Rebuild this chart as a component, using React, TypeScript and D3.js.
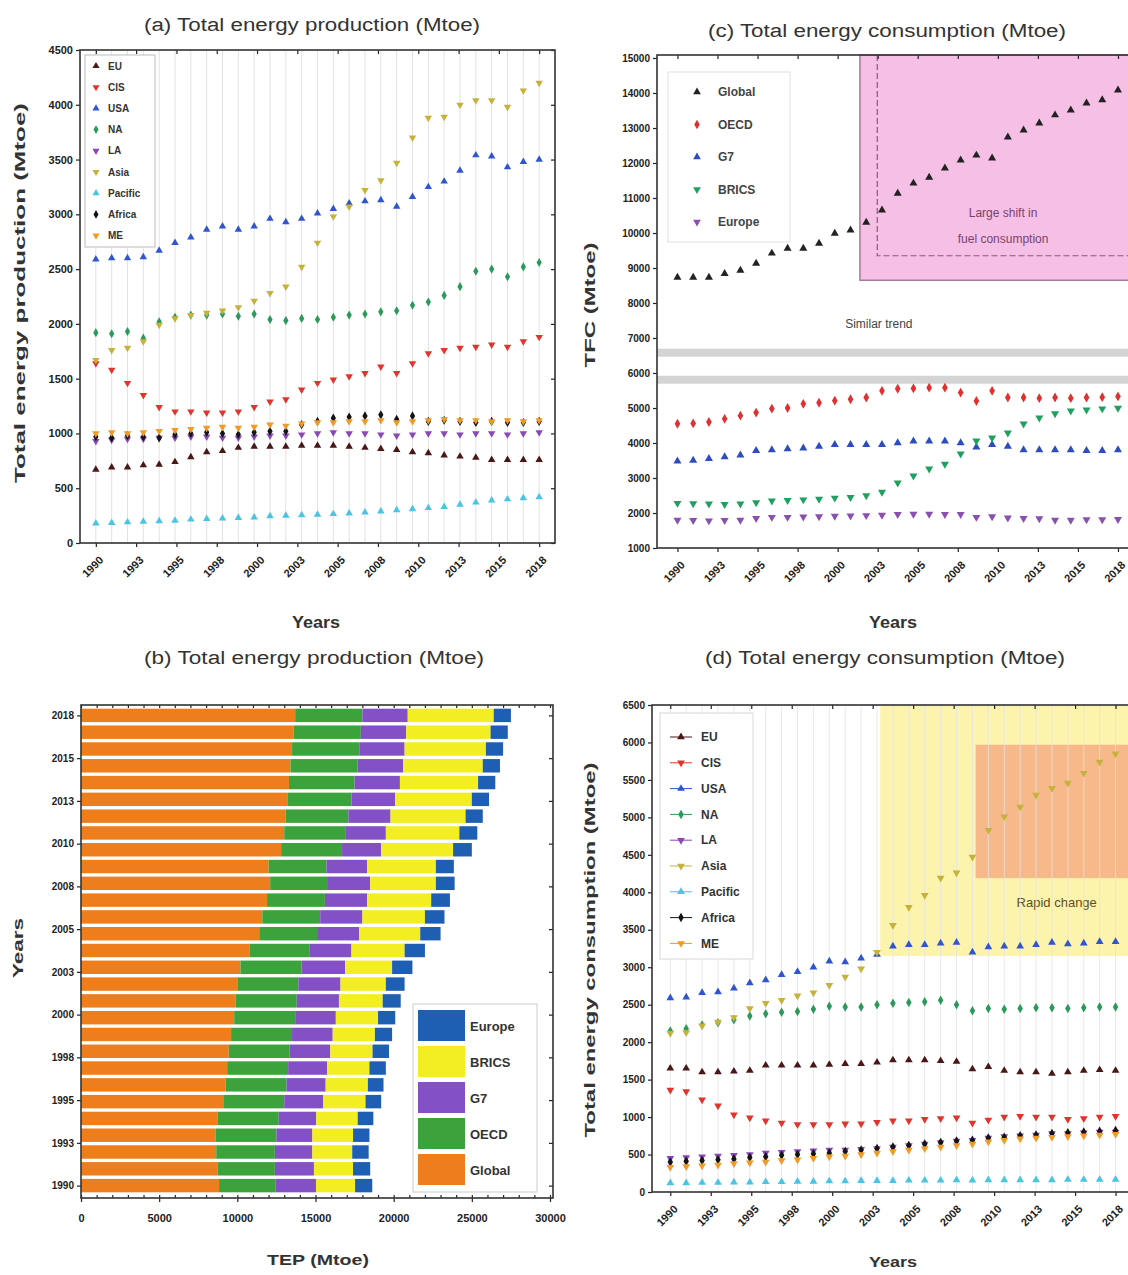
import React, { useEffect, useRef } from 'react';
import * as d3 from 'd3';

const FONT = "'Liberation Sans', Arial, Helvetica, sans-serif";

const years = [1990, 1991, 1992, 1993, 1994, 1995, 1996, 1997, 1998, 1999, 2000, 2001, 2002, 2003, 2004, 2005, 2006, 2007, 2008, 2009, 2010, 2011, 2012, 2013, 2014, 2015, 2016, 2017, 2018];
const yearTickLabels = ['1990', '1993', '1995', '1998', '2000', '2003', '2005', '2008', '2010', '2013', '2015', '2018'];

// (a) total energy production by region (Mtoe)
const regions = ['EU', 'CIS', 'USA', 'NA', 'LA', 'Asia', 'Pacific', 'Africa', 'ME'];
const prodEU = [670, 690, 690, 710, 715, 740, 785, 830, 840, 870, 880, 880, 880, 890, 890, 890, 880, 870, 860, 850, 830, 820, 800, 790, 780, 760, 760, 760, 760];
const prodCIS = [1640, 1580, 1460, 1350, 1240, 1200, 1200, 1190, 1190, 1200, 1240, 1290, 1310, 1400, 1460, 1490, 1520, 1550, 1610, 1550, 1640, 1730, 1760, 1780, 1790, 1810, 1790, 1840, 1880];
const prodUSA = [2590, 2600, 2600, 2610, 2670, 2740, 2790, 2860, 2890, 2860, 2890, 2960, 2930, 2960, 3010, 3050, 3100, 3120, 3130, 3070, 3160, 3250, 3300, 3400, 3540, 3530, 3430, 3480, 3500];
const prodNA = [1920, 1910, 1930, 1870, 2020, 2060, 2080, 2080, 2090, 2070, 2090, 2040, 2030, 2050, 2040, 2060, 2080, 2090, 2110, 2120, 2170, 2200, 2260, 2340, 2480, 2500, 2430, 2520, 2560];
const prodLA = [930, 940, 950, 950, 960, 960, 970, 970, 960, 960, 970, 980, 980, 990, 1000, 1010, 1000, 1000, 990, 980, 990, 1000, 1000, 990, 1000, 1000, 990, 1000, 1010];
const prodAsia = [1670, 1760, 1780, 1840, 1990, 2050, 2080, 2100, 2120, 2150, 2210, 2280, 2340, 2520, 2740, 2980, 3070, 3220, 3310, 3470, 3700, 3880, 3890, 4000, 4040, 4040, 3980, 4130, 4200];
const prodPacific = [180, 185, 190, 195, 200, 205, 215, 220, 225, 230, 235, 245, 250, 255, 260, 265, 270, 280, 290, 300, 310, 320, 330, 350, 370, 390, 400, 410, 420];
const prodAfrica = [970, 960, 980, 970, 960, 990, 1000, 1010, 1000, 990, 1010, 1020, 1020, 1080, 1110, 1140, 1150, 1160, 1170, 1130, 1160, 1110, 1120, 1110, 1100, 1110, 1100, 1100, 1110];
const prodME = [1000, 1010, 1000, 1010, 1020, 1030, 1040, 1050, 1060, 1050, 1060, 1080, 1070, 1090, 1100, 1100, 1110, 1110, 1120, 1100, 1110, 1120, 1130, 1120, 1120, 1110, 1120, 1110, 1120];

// (b) total energy production, stacked by bloc (Mtoe)
const blocs = ['Global', 'OECD', 'G7', 'BRICS', 'Europe'];
const tepGlobal = [8830, 8750, 8650, 8600, 8750, 9100, 9250, 9350, 9450, 9600, 9800, 9900, 10000, 10200, 10800, 11400, 11600, 11900, 12100, 12000, 12800, 13000, 13100, 13200, 13300, 13400, 13500, 13600, 13700];
const tepOECD = [3600, 3650, 3750, 3900, 3900, 3900, 3900, 3900, 3900, 3900, 3900, 3900, 3900, 3900, 3800, 3700, 3700, 3700, 3700, 3700, 3900, 3900, 4000, 4100, 4200, 4300, 4300, 4300, 4300];
const tepG7 = [2600, 2500, 2400, 2300, 2400, 2500, 2500, 2500, 2600, 2600, 2600, 2700, 2700, 2800, 2700, 2700, 2700, 2700, 2700, 2600, 2500, 2600, 2700, 2800, 2900, 2900, 2900, 2900, 2900];
const tepBRICS = [2500, 2500, 2550, 2600, 2650, 2700, 2700, 2700, 2700, 2700, 2700, 2800, 2900, 3000, 3400, 3900, 4000, 4100, 4200, 4400, 4600, 4700, 4800, 4900, 5000, 5100, 5200, 5400, 5500];
const tepEurope = [1100, 1100, 1050, 1050, 1000, 1000, 1000, 1050, 1050, 1100, 1100, 1150, 1200, 1300, 1300, 1300, 1250, 1200, 1200, 1150, 1200, 1150, 1100, 1100, 1100, 1100, 1100, 1100, 1100];

// (c) total final consumption by bloc (Mtoe)
const tfcGlobal = [8730, 8730, 8730, 8840, 8930, 9130, 9420, 9560, 9560, 9700, 9990, 10080, 10300, 10650, 11130, 11420, 11590, 11850, 12080, 12220, 12140, 12740, 12940, 13140, 13370, 13510, 13710, 13800, 14080];
const tfcOECD = [4550, 4560, 4600, 4690, 4780, 4870, 4980, 5000, 5120, 5150, 5210, 5250, 5300, 5490, 5550, 5560, 5580, 5580, 5440, 5200, 5490, 5300, 5300, 5280, 5300, 5280, 5300, 5310, 5330];
const tfcG7 = [3480, 3500, 3550, 3600, 3650, 3780, 3800, 3830, 3850, 3900, 3950, 3950, 3950, 3950, 4000, 4050, 4050, 4050, 4000, 3880, 3950, 3900, 3800, 3800, 3800, 3800, 3780, 3780, 3800];
const tfcBRICS = [2280, 2270, 2260, 2250, 2260, 2300, 2350, 2360, 2380, 2400, 2430, 2450, 2500, 2600, 2860, 3060, 3260, 3400, 3690, 4060, 4150, 4290, 4550, 4720, 4840, 4920, 4950, 4980, 5000];
const tfcEurope = [1800, 1790, 1780, 1790, 1800, 1850, 1880, 1880, 1890, 1900, 1910, 1920, 1930, 1940, 1960, 1970, 1970, 1960, 1960, 1880, 1900, 1860, 1850, 1840, 1800, 1800, 1810, 1810, 1820];

// (d) total energy consumption by region (Mtoe)
const consEU = [1650, 1650, 1600, 1600, 1610, 1620, 1690, 1690, 1690, 1690, 1700, 1710, 1710, 1730, 1760, 1760, 1760, 1750, 1740, 1640, 1670, 1620, 1600, 1600, 1580, 1600, 1620, 1630, 1620];
const consCIS = [1360, 1340, 1230, 1150, 1030, 990, 950, 920, 900, 900, 900, 910, 910, 930, 950, 950, 970, 980, 990, 920, 960, 1000, 1010, 1000, 1000, 970, 980, 1000, 1010];
const consUSA = [2590, 2600, 2660, 2670, 2720, 2790, 2830, 2900, 2940, 3000, 3080, 3070, 3120, 3170, 3280, 3300, 3300, 3320, 3330, 3200, 3270, 3280, 3280, 3300, 3330, 3310, 3320, 3340, 3340];
const consNA = [2150, 2180, 2230, 2260, 2300, 2350, 2380, 2400, 2410, 2440, 2480, 2470, 2470, 2500, 2520, 2530, 2540, 2560, 2500, 2420, 2450, 2440, 2450, 2460, 2460, 2450, 2460, 2470, 2470];
const consLA = [450, 460, 470, 480, 490, 500, 520, 530, 540, 550, 560, 560, 570, 580, 600, 620, 640, 660, 680, 690, 720, 740, 750, 760, 780, 780, 790, 800, 800];
const consAsia = [2120, 2130, 2220, 2270, 2330, 2450, 2520, 2560, 2620, 2660, 2760, 2870, 2980, 3200, 3560, 3800, 3960, 4190, 4260, 4470, 4830, 5010, 5140, 5300, 5390, 5460, 5590, 5740, 5850];
const consPacific = [120, 120, 125, 125, 130, 130, 135, 135, 140, 140, 145, 145, 150, 150, 150, 155, 155, 155, 160, 155, 160, 160, 160, 160, 160, 165, 165, 165, 165];
const consAfrica = [400, 410, 420, 430, 440, 460, 470, 490, 500, 510, 520, 540, 560, 580, 600, 620, 640, 660, 680, 690, 720, 730, 750, 760, 780, 790, 800, 810, 820];
const consME = [330, 340, 350, 360, 380, 390, 400, 420, 430, 450, 470, 480, 500, 520, 540, 560, 580, 600, 620, 640, 670, 690, 710, 720, 730, 740, 750, 760, 770];

const regionStyle: any = {
  EU: { color: '#4a1616', shape: 'triangle' },
  CIS: { color: '#e2342c', shape: 'down' },
  USA: { color: '#2f56d0', shape: 'triangle' },
  NA: { color: '#2a9a5a', shape: 'diamond' },
  LA: { color: '#8a48b8', shape: 'down' },
  Asia: { color: '#c4b23a', shape: 'down' },
  Pacific: { color: '#48c4e4', shape: 'triangle' },
  Africa: { color: '#141414', shape: 'diamond' },
  ME: { color: '#f09a28', shape: 'down' },
};
const blocColor: any = { Global: '#ee7d1c', OECD: '#3ca33c', G7: '#8350c6', BRICS: '#f2ee22', Europe: '#1e5fb4' };
const tfcStyle: any = {
  Global: { color: '#222222', shape: 'triangle' },
  OECD: { color: '#e03030', shape: 'diamond' },
  G7: { color: '#2d4cc0', shape: 'triangle' },
  BRICS: { color: '#20a060', shape: 'down' },
  Europe: { color: '#8a50b0', shape: 'down' },
};

const tickYears = yearTickLabels.map((_, k) => 1990 + (k * 28) / 11);
const plain = d3.format('d');

function symbolPath(shape: string, size: number) {
  const t = shape === 'diamond' ? d3.symbolDiamond : shape === 'cross' ? d3.symbolCross : d3.symbolTriangle;
  return d3.symbol().type(t).size(size)() as string;
}

function drawMarkers(g: any, values: number[], x: any, y: any, style: any, size = 26) {
  g.append('g').selectAll('path').data(values).join('path')
    .attr('d', symbolPath(style.shape, size))
    .attr('transform', (d: number, i: number) => `translate(${x(years[i])},${y(d)})${style.shape === 'down' ? ' rotate(180)' : ''}`)
    .attr('fill', style.color);
}

function styleAxis(g: any, size = 11) {
  g.select('.domain').remove();
  g.selectAll('line').attr('stroke', '#222').attr('stroke-width', 1.2);
  g.selectAll('text').attr('font-family', FONT).attr('font-size', size).attr('font-weight', 'bold').attr('fill', '#222');
}

function yearAxisBottom(svg: any, x: any, yPos: number) {
  const g = svg.append('g').attr('transform', `translate(0,${yPos})`)
    .call(d3.axisBottom(x).tickValues(tickYears).tickFormat((d: any, i: number) => yearTickLabels[i]).tickSize(4));
  styleAxis(g);
  g.selectAll('text').attr('x', 0).attr('y', 0).attr('dy', '0.35em')
    .attr('text-anchor', 'end').attr('transform', 'translate(5,15) rotate(-45)');
  return g;
}

function title(svg: any, text: string, cx: number, y: number, len: number, size = 18) {
  svg.append('text').attr('x', cx).attr('y', y).attr('text-anchor', 'middle')
    .attr('font-family', FONT).attr('font-size', size).attr('fill', '#333')
    .attr('textLength', len).attr('lengthAdjust', 'spacingAndGlyphs').text(text);
}

function axisTitle(svg: any, text: string, cx: number, cy: number, len: number, rotate = false, size = 15) {
  svg.append('text').attr('x', cx).attr('y', cy).attr('text-anchor', 'middle').attr('dy', '0.35em')
    .attr('transform', rotate ? `rotate(-90,${cx},${cy})` : null)
    .attr('font-family', FONT).attr('font-size', size).attr('font-weight', 'bold').attr('fill', '#333')
    .attr('textLength', len).attr('lengthAdjust', 'spacingAndGlyphs').text(text);
}

function drawPanelA(svg: any) {
  const A = { left: 80, right: 555, top: 50, bottom: 543 };
  const x = d3.scaleLinear().domain([1989, 2019]).range([A.left, A.right]);
  const y = d3.scaleLinear().domain([0, 4500]).range([A.bottom, A.top]);
  const series = [prodEU, prodCIS, prodUSA, prodNA, prodLA, prodAsia, prodPacific, prodAfrica, prodME];

  title(svg, '(a) Total energy production (Mtoe)', 312, 31, 336);
  svg.append('g').selectAll('line').data(years).join('line')
    .attr('x1', (d: number) => x(d)).attr('x2', (d: number) => x(d))
    .attr('y1', A.top).attr('y2', A.bottom).attr('stroke', '#e2e2e2').attr('stroke-width', 1);

  const gl = svg.append('g').attr('transform', `translate(${A.left},0)`)
    .call(d3.axisLeft(y).tickValues(d3.range(0, 4501, 500)).tickFormat(plain).tickSize(4).tickPadding(3));
  styleAxis(gl);
  const gr = svg.append('g').attr('transform', `translate(${A.right},0)`)
    .call(d3.axisLeft(y).tickValues(d3.range(0, 4501, 500)).tickSize(4).tickFormat(() => ''));
  styleAxis(gr);
  const gt = svg.append('g').attr('transform', `translate(0,${A.top})`)
    .call(d3.axisBottom(x).tickValues(tickYears).tickSize(4).tickFormat(() => ''));
  styleAxis(gt);
  yearAxisBottom(svg, x, A.bottom);

  // legend
  svg.append('rect').attr('x', 85).attr('y', 55).attr('width', 70).attr('height', 192)
    .attr('fill', 'white').attr('stroke', '#bbb');
  regions.forEach((r, i) => {
    const ly = 66 + i * 21.2;
    svg.append('path').attr('d', symbolPath(regionStyle[r].shape, 22))
      .attr('transform', `translate(96,${ly})${regionStyle[r].shape === 'down' ? ' rotate(180)' : ''}`)
      .attr('fill', regionStyle[r].color);
    svg.append('text').attr('x', 108).attr('y', ly).attr('dy', '0.35em')
      .attr('font-family', FONT).attr('font-size', 10).attr('font-weight', 'bold').attr('fill', '#333').text(r);
  });

  series.forEach((s, i) => drawMarkers(svg, s, x, y, regionStyle[regions[i]], 24));

  svg.append('rect').attr('x', A.left).attr('y', A.top).attr('width', A.right - A.left).attr('height', A.bottom - A.top)
    .attr('fill', 'none').attr('stroke', '#333').attr('stroke-width', 1.6);
  axisTitle(svg, 'Total energy production (Mtoe)', 20, 293, 380, true);
  axisTitle(svg, 'Years', 316, 622, 48, false, 16);
}

function drawPanelB(svg: any) {
  const B = { left: 81, right: 553, top: 705, bottom: 1198 };
  const x = d3.scaleLinear().domain([0, 30000]).range([B.left, 550]);
  const y = d3.scaleBand().domain(years.slice().reverse().map(String)).range([B.top + 2, B.bottom - 4])
    .paddingInner(0.2).paddingOuter(0.1);
  const bw = y.bandwidth();
  const yl = d3.scaleLinear().domain([1990, 2018])
    .range([(y('1990') as number) + bw / 2, (y('2018') as number) + bw / 2]);

  title(svg, '(b) Total energy production (Mtoe)', 314, 664, 340);

  const table = years.map((yr, i) => ({
    year: String(yr), Global: tepGlobal[i], OECD: tepOECD[i], G7: tepG7[i], BRICS: tepBRICS[i], Europe: tepEurope[i],
  }));
  const stacked = d3.stack<any>().keys(blocs)(table);
  svg.append('g').selectAll('g').data(stacked).join('g')
    .attr('fill', (d: any) => blocColor[d.key])
    .selectAll('rect').data((d: any) => d).join('rect')
    .attr('x', (d: any) => x(d[0])).attr('width', (d: any) => x(d[1]) - x(d[0]))
    .attr('y', (d: any) => y(d.data.year)).attr('height', bw);

  const gb = svg.append('g').attr('transform', `translate(0,${B.bottom})`)
    .call(d3.axisBottom(x).tickValues(d3.range(0, 30001, 5000)).tickFormat(plain).tickSize(4).tickPadding(12));
  styleAxis(gb);
  [B.bottom, B.top].forEach((py) => {
    const gm = svg.append('g').attr('transform', `translate(0,${py})`)
      .call(d3.axisBottom(x).tickValues(d3.range(0, 30001, 1000)).tickSize(py === B.top ? 3 : -3).tickFormat(() => ''));
    styleAxis(gm);
  });
  const gl = svg.append('g').attr('transform', `translate(${B.left},0)`)
    .call(d3.axisLeft(yl).tickValues(tickYears).tickFormat((d: any, i: number) => yearTickLabels[i]).tickSize(4).tickPadding(3));
  styleAxis(gl, 10);
  const gr = svg.append('g').attr('transform', `translate(${B.right},0)`)
    .call(d3.axisLeft(yl).tickValues(tickYears).tickSize(4).tickFormat(() => ''));
  styleAxis(gr);

  // legend
  svg.append('rect').attr('x', 413).attr('y', 1004).attr('width', 124).attr('height', 188)
    .attr('fill', 'white').attr('stroke', '#ccc');
  blocs.slice().reverse().forEach((b, i) => {
    const ly = 1010 + i * 36;
    svg.append('rect').attr('x', 418).attr('y', ly).attr('width', 47).attr('height', 31).attr('fill', blocColor[b]);
    svg.append('text').attr('x', 470).attr('y', ly + 16).attr('dy', '0.35em')
      .attr('font-family', FONT).attr('font-size', 13).attr('font-weight', 'bold').attr('fill', '#333').text(b);
  });

  svg.append('rect').attr('x', B.left).attr('y', B.top).attr('width', B.right - B.left).attr('height', B.bottom - B.top)
    .attr('fill', 'none').attr('stroke', '#333').attr('stroke-width', 1.6);
  axisTitle(svg, 'Years', 18, 948, 60, true, 15);
  axisTitle(svg, 'TEP (Mtoe)', 318, 1260, 102, false, 15);
}

function drawPanelC(svg: any) {
  const C = { left: 657, right: 1140, top: 55, bottom: 548 };
  const x = d3.scaleLinear().domain([1988.7, 2019.4]).range([C.left, C.right]);
  const y = d3.scaleLinear().domain([1000, 15000]).range([C.bottom, 58]);
  const series = [tfcGlobal, tfcOECD, tfcG7, tfcBRICS, tfcEurope];

  title(svg, '(c) Total energy consumption (Mtoe)', 887, 37, 358);

  // annotation: large shift region
  svg.append('rect').attr('x', x(2001.6)).attr('y', C.top).attr('width', C.right - x(2001.6)).attr('height', y(8650) - C.top)
    .attr('fill', '#f6bfe6').attr('stroke', '#a7789a').attr('stroke-width', 1.5);
  svg.append('path')
    .attr('d', `M${x(2002.7)},${C.top} V${y(9350)} H${C.right}`)
    .attr('fill', 'none').attr('stroke', '#8a5a80').attr('stroke-width', 1.2).attr('stroke-dasharray', '6,3');
  ['Large shift in', 'fuel consumption'].forEach((t, i) => {
    svg.append('text').attr('x', x(2010.7)).attr('y', y(10450) + i * 26).attr('text-anchor', 'middle')
      .attr('font-family', FONT).attr('font-size', 12).attr('fill', '#7a3f6c').text(t);
  });

  // annotation: similar trend bands
  [6580, 5810].forEach((v) => {
    svg.append('line').attr('x1', C.left).attr('x2', C.right).attr('y1', y(v)).attr('y2', y(v))
      .attr('stroke', '#d4d4d4').attr('stroke-width', 8);
  });
  svg.append('text').attr('x', x(2002.8)).attr('y', y(7300)).attr('text-anchor', 'middle')
    .attr('font-family', FONT).attr('font-size', 12).attr('fill', '#444').text('Similar trend');

  const gl = svg.append('g').attr('transform', `translate(${C.left},0)`)
    .call(d3.axisLeft(y).tickValues(d3.range(1000, 15001, 1000)).tickFormat(plain).tickSize(4).tickPadding(3));
  styleAxis(gl, 10);
  const gt = svg.append('g').attr('transform', `translate(0,${C.top})`)
    .call(d3.axisBottom(x).tickValues(tickYears).tickSize(4).tickFormat(() => ''));
  styleAxis(gt);
  yearAxisBottom(svg, x, C.bottom);

  // legend
  svg.append('rect').attr('x', 668).attr('y', 72).attr('width', 122).attr('height', 170)
    .attr('fill', 'white').attr('stroke', '#e0e0e0');
  blocs.forEach((b, i) => {
    const ly = 92 + i * 32.5;
    svg.append('path').attr('d', symbolPath(tfcStyle[b].shape, 26))
      .attr('transform', `translate(697,${ly})${tfcStyle[b].shape === 'down' ? ' rotate(180)' : ''}`)
      .attr('fill', tfcStyle[b].color);
    svg.append('text').attr('x', 718).attr('y', ly).attr('dy', '0.35em')
      .attr('font-family', FONT).attr('font-size', 12).attr('font-weight', 'bold').attr('fill', '#444').text(b);
  });

  series.forEach((s, i) => drawMarkers(svg, s, x, y, tfcStyle[blocs[i]], 28));

  svg.append('rect').attr('x', C.left).attr('y', C.top).attr('width', C.right - C.left).attr('height', C.bottom - C.top)
    .attr('fill', 'none').attr('stroke', '#333').attr('stroke-width', 1.6);
  axisTitle(svg, 'TFC (Mtoe)', 590, 305, 125, true);
  axisTitle(svg, 'Years', 893, 622, 48, false, 16);
}

function drawPanelD(svg: any) {
  const D = { left: 652, right: 1141, top: 705, bottom: 1192 };
  const x = d3.scaleLinear().domain([1988.85, 2019.6]).range([D.left, D.right]);
  const y = d3.scaleLinear().domain([0, 6500]).range([D.bottom, D.top]);
  const series = [consEU, consCIS, consUSA, consNA, consLA, consAsia, consPacific, consAfrica, consME];

  title(svg, '(d) Total energy consumption (Mtoe)', 885, 664, 360);

  // annotation: rapid change region
  svg.append('rect').attr('x', x(2003.2)).attr('y', D.top).attr('width', D.right - x(2003.2)).attr('height', y(3150) - D.top)
    .attr('fill', '#fcf3ad');
  svg.append('rect').attr('x', x(2009.2)).attr('y', y(5970)).attr('width', D.right - x(2009.2)).attr('height', y(4190) - y(5970))
    .attr('fill', '#f7b98a');
  svg.append('text').attr('x', x(2014.3)).attr('y', y(3870)).attr('text-anchor', 'middle').attr('dy', '0.35em')
    .attr('font-family', FONT).attr('font-size', 13).attr('fill', '#5e5020').text('Rapid change');

  svg.append('g').selectAll('line').data(years).join('line')
    .attr('x1', (d: number) => x(d)).attr('x2', (d: number) => x(d))
    .attr('y1', D.top).attr('y2', D.bottom).attr('stroke', '#e4e4e4').attr('stroke-opacity', 0.8);

  const gl = svg.append('g').attr('transform', `translate(${D.left},0)`)
    .call(d3.axisLeft(y).tickValues(d3.range(0, 6501, 500)).tickFormat(plain).tickSize(4).tickPadding(3));
  styleAxis(gl, 10);
  const gt = svg.append('g').attr('transform', `translate(0,${D.top})`)
    .call(d3.axisBottom(x).tickValues(tickYears).tickSize(4).tickFormat(() => ''));
  styleAxis(gt);
  yearAxisBottom(svg, x, D.bottom);

  // legend
  svg.append('rect').attr('x', 660).attr('y', 713).attr('width', 93).attr('height', 246)
    .attr('fill', 'white').attr('stroke', '#d8d8d8');
  regions.forEach((r, i) => {
    const ly = 737 + i * 25.8;
    svg.append('line').attr('x1', 670).attr('x2', 692).attr('y1', ly).attr('y2', ly)
      .attr('stroke', regionStyle[r].color).attr('stroke-width', 1);
    svg.append('path').attr('d', symbolPath(regionStyle[r].shape, 26))
      .attr('transform', `translate(681,${ly})${regionStyle[r].shape === 'down' ? ' rotate(180)' : ''}`)
      .attr('fill', regionStyle[r].color);
    svg.append('text').attr('x', 701).attr('y', ly).attr('dy', '0.35em')
      .attr('font-family', FONT).attr('font-size', 12).attr('font-weight', 'bold').attr('fill', '#333').text(r);
  });

  series.forEach((s, i) => drawMarkers(svg, s, x, y, regionStyle[regions[i]], 26));

  svg.append('rect').attr('x', D.left).attr('y', D.top).attr('width', D.right - D.left).attr('height', D.bottom - D.top)
    .attr('fill', 'none').attr('stroke', '#333').attr('stroke-width', 1.6);
  axisTitle(svg, 'Total energy consumption (Mtoe)', 590, 950, 375, true);
  axisTitle(svg, 'Years', 893, 1262, 48, false, 15);
}

export default function App() {
  const ref = useRef<SVGSVGElement>(null);

  useEffect(() => {
    const svg = d3.select(ref.current);
    svg.selectAll('*').remove();
    drawPanelA(svg);
    drawPanelB(svg);
    drawPanelC(svg);
    drawPanelD(svg);
  }, []);

  return (
    <svg ref={ref} width={1128} height={1275}
      style={{ position: 'absolute', left: 0, top: 0, background: 'white', display: 'block' }} />
  );
}
